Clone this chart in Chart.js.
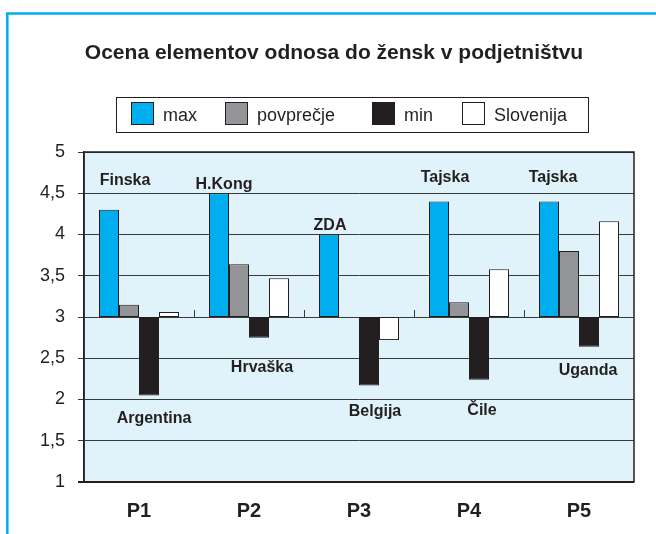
<!DOCTYPE html>
<html>
<head>
<meta charset="utf-8">
<script src="https://cdn.jsdelivr.net/npm/chart.js@4.4.1/dist/chart.umd.min.js"></script>
<style>
  html, body { margin: 0; padding: 0; background: #fff; }
</style>
</head>
<body>
<canvas id="myChart" width="656" height="534"></canvas>
<script>
"use strict";

// data
var categories = ["P1", "P2", "P3", "P4", "P5"];
var seriesNames = ["max", "povprečje", "min", "Slovenija"];
var maxValues = [4.30, 4.50, 4.00, 4.40, 4.40];
var avgValues = [3.15, 3.64, 3.00, 3.18, 3.80];
var minValues = [2.05, 2.75, 2.17, 2.24, 2.64];
var sloValues = [3.06, 3.47, 2.72, 3.58, 4.16];
var topCountries = ["Finska", "H.Kong", "ZDA", "Tajska", "Tajska"];
var bottomCountries = ["Argentina", "Hrvaška", "Belgija", "Čile", "Uganda"];
var yTicks = [1, 1.5, 2, 2.5, 3, 3.5, 4, 4.5, 5];
var baseValue = 3;

var FONT = "'Liberation Sans', Arial, sans-serif";
var INK = "#231F20";
var colors = ["#00AEEF", "#939598", "#231F20", "#FFFFFF"];

// bars hang from the 3 line, up or down
function floating(values) {
    return values.map(function (v) { return [baseValue, v]; });
}

var seriesValues = [maxValues, avgValues, minValues, sloValues];
var datasets = seriesNames.map(function (name, i) {
    return {
        label: name,
        data: floating(seriesValues[i]),
        backgroundColor: colors[i],
        borderColor: INK,
        borderWidth: 1,
        borderSkipped: false,
        categoryPercentage: 80 / 110,
        barPercentage: 1
    };
});

// outer cyan frame + light blue plot area
var framePlugin = {
    id: "frame",
    beforeDraw: function (chart) {
        var ctx = chart.ctx, a = chart.chartArea;
        ctx.save();
        ctx.fillStyle = "#fff";
        ctx.fillRect(0, 0, chart.width, chart.height);
        ctx.strokeStyle = "#00AEEF";
        ctx.lineWidth = 2.5;
        ctx.beginPath();
        ctx.moveTo(chart.width, 13.5);
        ctx.lineTo(7.3, 13.5);
        ctx.lineTo(7.3, chart.height);
        ctx.stroke();
        ctx.fillStyle = "#E0F2FA";
        ctx.fillRect(a.left, a.top, a.right - a.left, a.bottom - a.top);
        ctx.restore();
    },
    beforeDatasetsDraw: function (chart) {
        // small category ticks standing on the 3 line
        var ctx = chart.ctx, x = chart.scales.x, y = chart.scales.y;
        var y3 = y.getPixelForValue(baseValue);
        ctx.save();
        ctx.strokeStyle = "#3a3a3a";
        ctx.lineWidth = 1;
        for (var i = 0; i < categories.length - 1; i++) {
            var bx = Math.round((x.getPixelForValue(i) + x.getPixelForValue(i + 1)) / 2) + 0.5;
            ctx.beginPath();
            ctx.moveTo(bx, y3);
            ctx.lineTo(bx, y3 - 7);
            ctx.stroke();
        }
        ctx.restore();
    },
    afterDatasetsDraw: function (chart) {
        var ctx = chart.ctx, a = chart.chartArea;
        ctx.save();
        ctx.strokeStyle = INK;
        ctx.lineWidth = 1.5;
        ctx.strokeRect(a.left, a.top, a.right - a.left, a.bottom - a.top);
        ctx.lineWidth = 2;
        ctx.beginPath();
        ctx.moveTo(a.left - 6, a.bottom);
        ctx.lineTo(a.right, a.bottom);
        ctx.stroke();
        ctx.restore();
    }
};

// framed legend row under the title
var boxLegend = {
    id: "boxLegend",
    afterDraw: function (chart, args, opts) {
        var ctx = chart.ctx;
        ctx.save();
        ctx.strokeStyle = INK;
        ctx.lineWidth = 1;
        ctx.strokeRect(opts.left + 0.5, opts.top + 0.5, opts.width, opts.height);
        ctx.font = "18px " + FONT;
        ctx.textBaseline = "alphabetic";
        ctx.textAlign = "left";
        chart.data.datasets.forEach(function (ds, i) {
            var sx = opts.items[i];
            ctx.fillStyle = ds.backgroundColor;
            ctx.fillRect(sx, opts.swatchTop, opts.swatch, opts.swatch);
            ctx.strokeStyle = INK;
            ctx.strokeRect(sx + 0.5, opts.swatchTop + 0.5, opts.swatch - 1, opts.swatch - 1);
            ctx.fillStyle = INK;
            ctx.fillText(ds.label, sx + opts.swatch + 9, opts.textBaseline);
        });
        ctx.restore();
    }
};

// country names for the highest and lowest score of each element
var countryLabels = {
    id: "countryLabels",
    afterDatasetsDraw: function (chart, args, opts) {
        var ctx = chart.ctx, x = chart.scales.x, y = chart.scales.y;
        ctx.save();
        ctx.font = "bold 16px " + FONT;
        ctx.fillStyle = INK;
        ctx.textAlign = "center";
        ctx.textBaseline = "alphabetic";
        categories.forEach(function (c, i) {
            var cx = x.getPixelForValue(i);
            ctx.fillText(topCountries[i], cx + opts.topDx[i], y.getPixelForValue(opts.topY[i]));
            ctx.fillText(bottomCountries[i], cx + opts.bottomDx[i], y.getPixelForValue(opts.bottomY[i]));
        });
        ctx.restore();
    }
};

var ctx = document.getElementById("myChart").getContext("2d");
var chart = new Chart(ctx, {
    type: "bar",
    data: {
        labels: categories,
        datasets: datasets
    },
    plugins: [framePlugin, boxLegend, countryLabels],
    options: {
        responsive: false,
        animation: false,
        devicePixelRatio: 1,
        layout: { padding: { left: 34, right: 22, top: 0, bottom: 0 } },
        plugins: {
            legend: { display: false },
            tooltip: { enabled: false },
            title: {
                display: true,
                text: "Ocena elementov odnosa do žensk v podjetništvu",
                color: INK,
                font: { family: FONT, size: 21, weight: "bold" },
                padding: { top: 41, bottom: 85.8 }
            },
            boxLegend: {
                left: 116, top: 97, width: 472, height: 35,
                items: [131, 225, 372, 462],
                swatch: 23, swatchTop: 102, textBaseline: 121
            },
            countryLabels: {
                topDx: [-14, -25, -29, -24, -26],
                topY: [4.605, 4.556, 4.06, 4.636, 4.636],
                bottomDx: [15, 13, 16, 13, 9],
                bottomY: [1.715, 2.333, 1.80, 1.817, 2.30]
            }
        },
        scales: {
            x: {
                grid: { display: false, drawTicks: false },
                border: { display: false },
                ticks: {
                    color: INK,
                    padding: 17,
                    font: { family: FONT, size: 20, weight: "bold" }
                },
                afterFit: function (scale) { scale.height = 52; }
            },
            y: {
                min: 1,
                max: 5,
                afterBuildTicks: function (scale) {
                    scale.ticks = yTicks.map(function (v) { return { value: v }; });
                },
                grid: { color: "#3a3a3a", lineWidth: 1, tickLength: 6, drawTicks: true },
                border: { display: true, color: INK, width: 1.5 },
                ticks: {
                    color: INK,
                    padding: 13,
                    font: { family: FONT, size: 18 },
                    callback: function (v) { return String(v).replace(".", ","); }
                },
                afterFit: function (scale) { scale.width = 50; }
            }
        }
    }
});
</script>
</body>
</html>
